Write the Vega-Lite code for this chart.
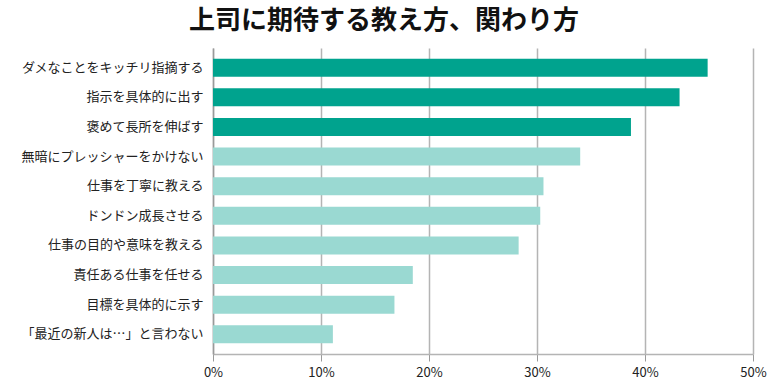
{
  "$schema": "https://vega.github.io/schema/vega-lite/v6.json",
  "width": 540,
  "height": 306,
  "autosize": {"type": "none"},
  "padding": {"left": 213, "top": 48, "right": 15, "bottom": 27},
  "background": "white",
  "title": {
    "text": "上司に期待する教え方、関わり方",
    "font": "Noto Sans CJK JP",
    "fontSize": 26,
    "fontWeight": "bold",
    "color": "#111111",
    "anchor": "middle",
    "dx": -99,
    "offset": 14
  },
  "data": {
    "values": [
      {"item": "ダメなことをキッチリ指摘する", "pct": 45.8, "group": "上位"},
      {"item": "指示を具体的に出す", "pct": 43.2, "group": "上位"},
      {"item": "褒めて長所を伸ばす", "pct": 38.7, "group": "上位"},
      {"item": "無暗にプレッシャーをかけない", "pct": 34.0, "group": "その他"},
      {"item": "仕事を丁寧に教える", "pct": 30.6, "group": "その他"},
      {"item": "ドンドン成長させる", "pct": 30.3, "group": "その他"},
      {"item": "仕事の目的や意味を教える", "pct": 28.3, "group": "その他"},
      {"item": "責任ある仕事を任せる", "pct": 18.5, "group": "その他"},
      {"item": "目標を具体的に示す", "pct": 16.8, "group": "その他"},
      {"item": "「最近の新人は…」と言わない", "pct": 11.1, "group": "その他"}
    ]
  },
  "mark": {"type": "bar"},
  "encoding": {
    "y": {
      "field": "item",
      "type": "nominal",
      "sort": null,
      "title": null,
      "scale": {"paddingInner": 0.39, "paddingOuter": 0.36},
      "axis": {
        "domain": true,
        "domainColor": "#9a9a9a",
        "domainWidth": 1.5,
        "ticks": false,
        "labelFont": "Noto Sans CJK JP",
        "labelFontSize": 13,
        "labelColor": "#222222",
        "labelPadding": 10,
        "labelLimit": 300
      }
    },
    "x": {
      "field": "pct",
      "type": "quantitative",
      "title": null,
      "scale": {"domain": [0, 50], "nice": false},
      "axis": {
        "values": [0, 10, 20, 30, 40, 50],
        "labelExpr": "datum.value + '%'",
        "labelFlush": false,
        "labelFont": "Noto Sans CJK JP",
        "labelFontSize": 13,
        "labelColor": "#222222",
        "labelPadding": 5,
        "grid": true,
        "gridColor": "#b4b4b4",
        "gridWidth": 1.5,
        "domainColor": "#b4b4b4",
        "domainWidth": 1.5,
        "tickColor": "#9a9a9a",
        "tickSize": 7,
        "tickWidth": 1
      }
    },
    "color": {
      "field": "group",
      "type": "nominal",
      "scale": {"domain": ["上位", "その他"], "range": ["#00a38e", "#9ad9d2"]},
      "legend": null
    }
  },
  "config": {"view": {"stroke": null}}
}
